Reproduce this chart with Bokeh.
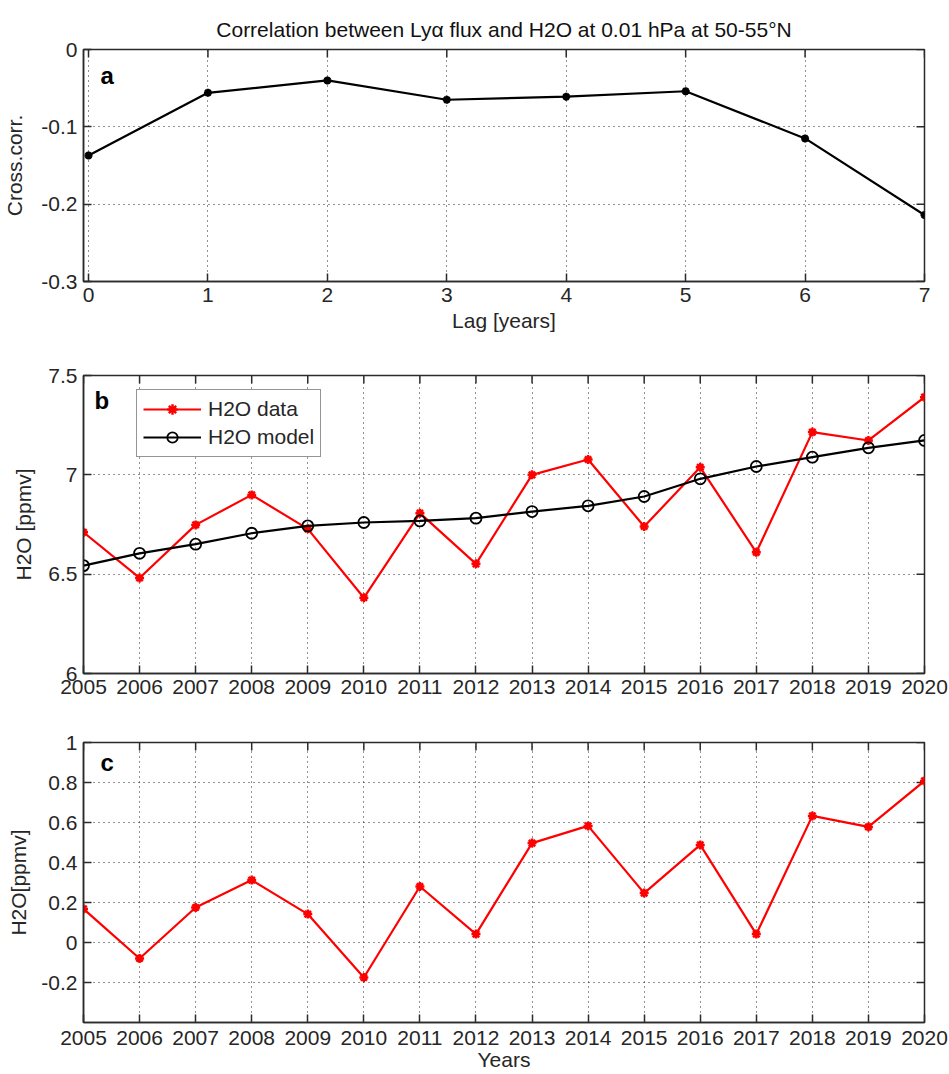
from bokeh.plotting import figure
from bokeh.layouts import column
from bokeh.models import FixedTicker, Range1d, Label, Legend, LegendItem
from bokeh.embed import file_html
from bokeh.resources import INLINE

# ---- data -------------------------------------------------------------
lags = [0, 1, 2, 3, 4, 5, 6, 7]
cross_corr = [-0.137, -0.056, -0.040, -0.065, -0.061, -0.054, -0.115, -0.214]

years = [2005, 2006, 2007, 2008, 2009, 2010, 2011, 2012,
         2013, 2014, 2015, 2016, 2017, 2018, 2019, 2020]
h2o_data = [6.711, 6.481, 6.748, 6.899, 6.728, 6.381, 6.807, 6.552,
            7.000, 7.077, 6.740, 7.038, 6.610, 7.215, 7.173, 7.391]
h2o_model = [6.543, 6.605, 6.651, 6.706, 6.743, 6.760, 6.768, 6.782,
             6.815, 6.844, 6.891, 6.980, 7.042, 7.089, 7.136, 7.173]
h2o_anom = [0.168, -0.080, 0.175, 0.312, 0.142, -0.175, 0.280, 0.042,
            0.497, 0.583, 0.247, 0.488, 0.042, 0.633, 0.578, 0.808]

a_yticks = [-0.3, -0.2, -0.1, 0.0]
a_ylabels = ["-0.3", "-0.2", "-0.1", "0"]
b_yticks = [6.0, 6.5, 7.0, 7.5]
b_ylabels = ["6", "6.5", "7", "7.5"]
c_yticks = [-0.2, 0.0, 0.2, 0.4, 0.6, 0.8, 1.0]
c_ylabels = ["-0.2", "0", "0.2", "0.4", "0.6", "0.8", "1"]

TITLE = "Correlation between Ly\u03b1 flux and H2O at 0.01 hPa at 50-55\u00b0N"

# ---- styling ----------------------------------------------------------
FONT = "Liberation Sans"
TEXT = "#262626"
FRAME = "#2b2b2b"
TICK_FS = "21px"
LABEL_FS = "21px"
TICK_LEN = 8
FIG_W = 949
BORDER_L, BORDER_R = 83, 25


def style_axis(ax):
    ax.major_tick_in = TICK_LEN
    ax.major_tick_out = 0
    ax.minor_tick_line_color = None
    ax.axis_line_color = FRAME
    ax.axis_line_width = 1.5
    ax.major_tick_line_color = FRAME
    ax.major_tick_line_width = 1.5
    ax.major_label_text_font = FONT
    ax.major_label_text_font_size = TICK_FS
    ax.major_label_text_color = TEXT
    ax.major_label_standoff = 6
    ax.axis_label_text_font = FONT
    ax.axis_label_text_font_size = LABEL_FS
    ax.axis_label_text_font_style = "normal"
    ax.axis_label_text_color = TEXT


def make_panel(height, top, bottom, xr, yr, xticks, yticks, ylabels,
               xlabels=None, xlabel=None, ylabel=None, ylabel_standoff=10,
               xlabel_standoff=6, xtick_standoff=6):
    p = figure(width=FIG_W, height=height, x_range=Range1d(*xr), y_range=Range1d(*yr),
               output_backend="svg", toolbar_location=None,
               min_border_left=BORDER_L, min_border_right=BORDER_R,
               min_border_top=top, min_border_bottom=bottom)
    p.background_fill_color = "white"
    p.border_fill_color = "white"
    p.outline_line_color = FRAME
    p.outline_line_width = 1.5

    p.xaxis.ticker = FixedTicker(ticks=xticks)
    p.yaxis.ticker = FixedTicker(ticks=yticks)
    p.yaxis.major_label_overrides = {t: s for t, s in zip(yticks, ylabels)}
    if xlabels is not None:
        p.xaxis.major_label_overrides = {t: s for t, s in zip(xticks, xlabels)}
    for ax in p.xaxis + p.yaxis:
        style_axis(ax)
    p.xaxis.major_label_standoff = xtick_standoff
    if xlabel:
        p.xaxis.axis_label = xlabel
        p.xaxis.axis_label_standoff = xlabel_standoff
    if ylabel:
        p.yaxis.axis_label = ylabel
        p.yaxis.axis_label_standoff = ylabel_standoff

    for g in (p.xgrid, p.ygrid):
        g.grid_line_color = "#000000"
        g.grid_line_alpha = 0.85
        g.grid_line_dash = "1 4"
        g.grid_line_width = 1

    # mirrored inward ticks along the top and right edges of the box
    frame_w = FIG_W - BORDER_L - BORDER_R
    frame_h = height - top - bottom
    dy = TICK_LEN * (yr[1] - yr[0]) / frame_h
    dx = TICK_LEN * (xr[1] - xr[0]) / frame_w
    p.segment(x0=xticks, y0=[yr[1]] * len(xticks), x1=xticks, y1=[yr[1] - dy] * len(xticks),
              line_color=FRAME, line_width=1.5)
    p.segment(x0=[xr[1]] * len(yticks), y0=yticks, x1=[xr[1] - dx] * len(yticks), y1=yticks,
              line_color=FRAME, line_width=1.5)
    return p


def panel_letter(p, text, x, y):
    p.add_layout(Label(x=x, y=y, x_units="screen", y_units="screen", text=text,
                       text_font=FONT, text_font_size="24px", text_font_style="bold",
                       text_color="#000000", text_baseline="alphabetic"))


# ---- panel a: lagged cross-correlation ---------------------------------
pa = make_panel(340, 49, 59, (-0.042, 7), (-0.3, 0), lags, a_yticks, a_ylabels,
                xlabel="Lag [years]", ylabel="Cross.corr.", ylabel_standoff=12,
                xlabel_standoff=4)
pa.title.text = TITLE
pa.title.align = "center"
pa.title.text_font = FONT
pa.title.text_font_size = "21px"
pa.title.text_font_style = "normal"
pa.title.text_color = "#111111"
pa.title.standoff = 18
pa.line(lags, cross_corr, line_color="black", line_width=2.2)
pa.scatter(lags, cross_corr, marker="asterisk", size=8, line_color="black", line_width=2.5)
panel_letter(pa, "a", 17, 206)

# ---- panel b: H2O data and model ---------------------------------------
year_labels = [str(y) for y in years]
pb = make_panel(365, 35, 32, (2005, 2020), (6, 7.5), years, b_yticks, b_ylabels,
                xlabels=year_labels, ylabel="H2O [ppmv]", ylabel_standoff=10)
ld = pb.line(years, h2o_data, line_color="#ff0000", line_width=2.2)
sd = pb.scatter(years, h2o_data, marker="asterisk", size=9, line_color="#ff0000", line_width=2.5)
lm = pb.line(years, h2o_model, line_color="black", line_width=2.2)
sm = pb.scatter(years, h2o_model, marker="circle", size=11, line_color="black",
                fill_color=None, line_width=1.8)
legend = Legend(items=[LegendItem(label="H2O data", renderers=[ld, sd]),
                       LegendItem(label="H2O model", renderers=[lm, sm])],
                location=(53, 216), orientation="vertical",
                label_text_font=FONT, label_text_font_size="21px", label_text_color=TEXT,
                glyph_width=58, glyph_height=26, label_height=26, label_standoff=7,
                spacing=2, padding=6, margin=0,
                border_line_color=FRAME, border_line_width=1.5,
                background_fill_color="white", background_fill_alpha=1)
pb.add_layout(legend)
panel_letter(pb, "b", 11, 273)

# ---- panel c: H2O anomaly ---------------------------------------------
pc = make_panel(369, 37, 52, (2005, 2020), (-0.4, 1), years, c_yticks, c_ylabels,
                xlabels=year_labels, xlabel="Years", ylabel="H2O[ppmv]", ylabel_standoff=8,
                xlabel_standoff=0, xtick_standoff=8)
pc.line(years, h2o_anom, line_color="#ff0000", line_width=2.2)
pc.scatter(years, h2o_anom, marker="asterisk", size=9, line_color="#ff0000", line_width=2.5)
panel_letter(pc, "c", 17, 260)

layout = column(pa, pb, pc, spacing=0)
open("out.html", "w").write(file_html(layout, INLINE))
